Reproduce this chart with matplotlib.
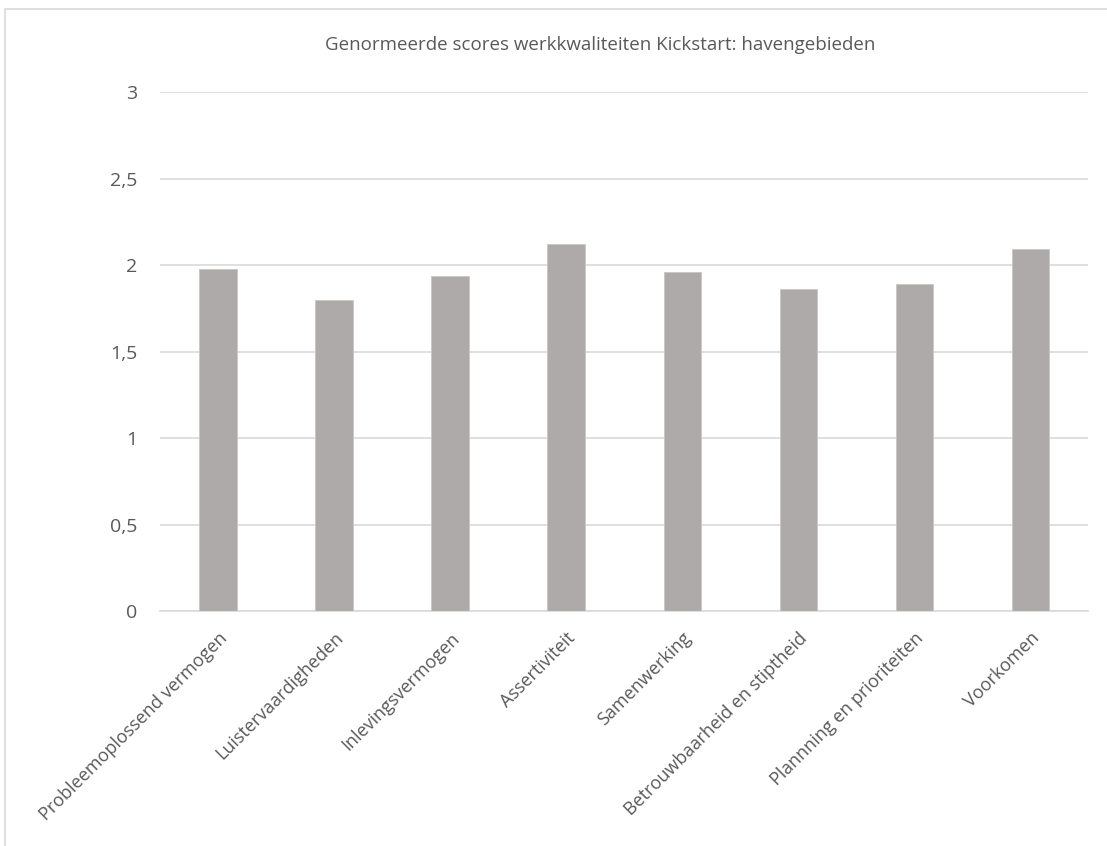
import matplotlib.pyplot as plt
from matplotlib.patches import Rectangle

categories = [
    "Probleemoplossend vermogen",
    "Luistervaardigheden",
    "Inlevingsvermogen",
    "Assertiviteit",
    "Samenwerking",
    "Betrouwbaarheid en stiptheid",
    "Plannning en prioriteiten",
    "Voorkomen",
]
scores = [1.975, 1.80, 1.94, 2.12, 1.96, 1.86, 1.89, 2.095]
yticks = [0, 0.5, 1, 1.5, 2, 2.5, 3]
yticklabels = ["0", "0,5", "1", "1,5", "2", "2,5", "3"]

plt.rcParams['font.family'] = ['Open Sans', 'DejaVu Sans']
text_color = '#595959'

fig = plt.figure(figsize=(11.07, 8.46), dpi=100)
ax = fig.add_axes([0.1445, 0.2778, 0.8385, 0.6132])

x = list(range(len(categories)))
ax.bar(x, scores, width=0.32, color='#AEAAAA', edgecolor='#C8C5C5', linewidth=0.6, zorder=3)

ax.set_ylim(0, 3)
ax.set_xlim(-0.5, len(categories) - 0.5)
ax.set_yticks(yticks)
ax.set_yticklabels(yticklabels, fontsize=14, color=text_color)
ax.set_xticks(x)
ax.set_xticklabels(categories, rotation=45, ha='right', rotation_mode='anchor',
                   fontsize=13, color=text_color)
ax.tick_params(axis='both', length=0)
ax.tick_params(axis='y', pad=16.5)
ax.tick_params(axis='x', pad=13)

ax.grid(axis='y', color='#D9D9D9', linewidth=1.2, zorder=0)
for s in ['top', 'right', 'left']:
    ax.spines[s].set_visible(False)
ax.spines['bottom'].set_color('#D9D9D9')
ax.spines['bottom'].set_linewidth(1.2)

fig.text(0.542, 0.947, "Genormeerde scores werkkwaliteiten Kickstart: havengebieden",
         ha='center', va='center', fontsize=13.5, color=text_color)

# chart area border (cropped at right and bottom)
fig.patches.append(Rectangle((5 / 1107, -0.1), 1.2, 1 - 9 / 846 + 0.1,
                             transform=fig.transFigure, fill=False,
                             edgecolor='#D9D9D9', linewidth=1.2))

fig.savefig('out.png', dpi=100)
